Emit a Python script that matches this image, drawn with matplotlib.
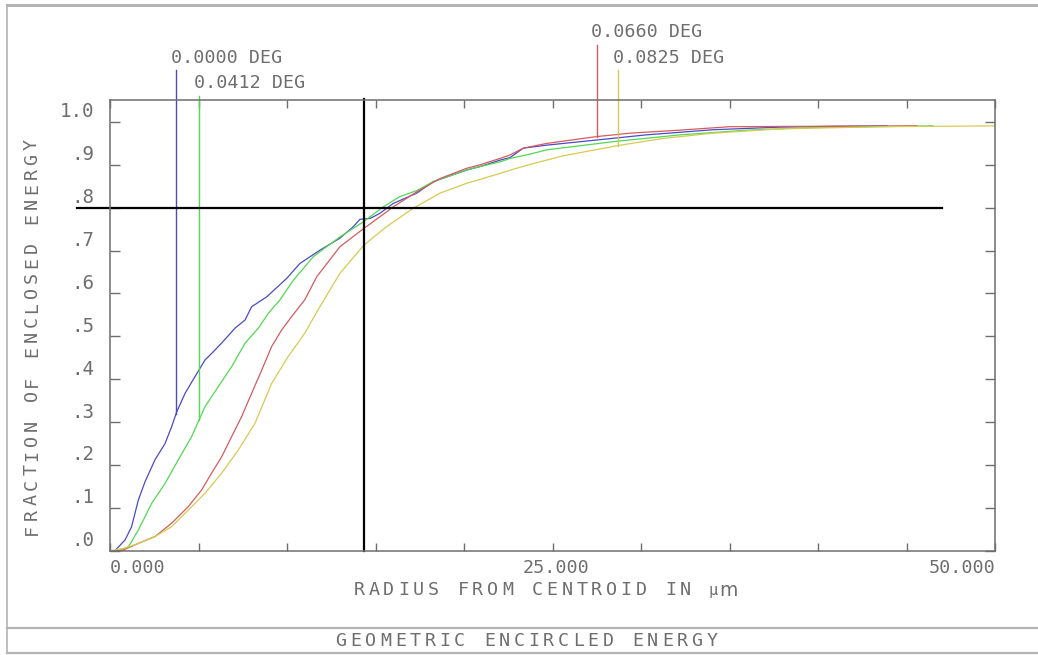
import numpy as np
import matplotlib
matplotlib.use("Agg")
import matplotlib.pyplot as plt
from matplotlib.lines import Line2D
from matplotlib.transforms import ScaledTranslation

# radius (um) / fraction of enclosed energy for each field angle
r_000 = [0.0, 0.28, 0.85, 1.22, 1.6, 1.98, 2.54, 3.11, 3.48, 3.77, 4.24, 4.8, 5.37, 5.74,
         6.3, 7.06, 7.63, 8.0, 8.85, 9.98, 10.73, 11.86, 12.99, 13.75, 14.12, 14.69, 15.25,
         16.0, 17.33, 18.27, 20.15, 20.9, 22.03, 22.6, 23.35, 24.67, 27.5, 30.3, 34.1,
         37.85, 41.0, 43.9]
e_000 = [0.0, 0.0, 0.025, 0.056, 0.118, 0.161, 0.212, 0.25, 0.289, 0.324, 0.367, 0.406,
         0.445, 0.46, 0.484, 0.519, 0.538, 0.569, 0.592, 0.635, 0.67, 0.701, 0.729, 0.756,
         0.773, 0.775, 0.787, 0.81, 0.834, 0.861, 0.888, 0.896, 0.911, 0.917, 0.939, 0.946,
         0.958, 0.970, 0.982, 0.988, 0.990, 0.991]

r_041 = [0.0, 0.47, 1.04, 1.6, 2.35, 3.11, 3.86, 4.61, 5.03, 5.37, 6.12, 6.87, 7.63, 8.38,
         8.95, 9.6, 10.36, 11.49, 12.99, 14.31, 15.44, 16.38, 17.33, 18.27, 20.15, 20.9,
         22.03, 22.6, 23.73, 24.67, 28.4, 32.2, 36.0, 39.7, 46.5]
e_041 = [0.0, 0.0, 0.009, 0.048, 0.11, 0.157, 0.212, 0.266, 0.305, 0.336, 0.383, 0.429,
         0.484, 0.519, 0.554, 0.585, 0.631, 0.686, 0.732, 0.767, 0.802, 0.826, 0.840, 0.861,
         0.888, 0.896, 0.907, 0.915, 0.925, 0.935, 0.954, 0.970, 0.981, 0.987, 0.991]

r_066 = [0.0, 0.66, 1.6, 2.54, 3.48, 4.43, 5.18, 5.74, 6.31, 6.87, 7.44, 8.0, 8.57, 9.13,
         9.7, 10.26, 11.0, 11.68, 12.99, 14.35, 15.25, 16.0, 17.33, 18.64, 20.15, 20.9,
         22.03, 22.6, 23.35, 24.67, 27.5, 29.4, 32.2, 35.0, 40.0, 45.6]
e_066 = [0.0, 0.0, 0.017, 0.033, 0.064, 0.103, 0.142, 0.181, 0.219, 0.266, 0.313, 0.367,
         0.421, 0.476, 0.515, 0.546, 0.585, 0.639, 0.709, 0.752, 0.779, 0.802, 0.837, 0.868,
         0.892, 0.900, 0.915, 0.923, 0.939, 0.950, 0.966, 0.974, 0.981, 0.989, 0.990, 0.991]

r_083 = [0.0, 0.85, 1.6, 2.54, 3.48, 4.43, 5.37, 6.31, 7.25, 8.19, 9.13, 10.07, 11.0,
         11.77, 12.99, 14.35, 15.63, 17.14, 18.64, 20.15, 20.9, 22.03, 22.8, 23.9, 25.6,
         28.7, 31.3, 34.1, 37.85, 43.5, 50.0]
e_083 = [0.0, 0.006, 0.017, 0.033, 0.056, 0.095, 0.134, 0.181, 0.235, 0.297, 0.39, 0.453,
         0.507, 0.563, 0.647, 0.713, 0.756, 0.799, 0.834, 0.857, 0.866, 0.880, 0.890, 0.903,
         0.921, 0.945, 0.962, 0.974, 0.984, 0.989, 0.991]

fields = ["0.0000 DEG", "0.0412 DEG", "0.0660 DEG", "0.0825 DEG"]
colors = ["#4a4ac8", "#52d852", "#d45c5c", "#d6ca52"]
# radius where each field's label leader is drawn, and how high it reaches
marker_r = [3.73, 5.03, 27.5, 28.7]
marker_top = [1.121, 1.061, 1.180, 1.121]

crosshair_r = 14.35
crosshair_e = 0.8

W, H = 1038, 655
GREY = "#6e6e6e"
MONO = "DejaVu Sans Mono"

fig = plt.figure(figsize=(W / 100, H / 100), dpi=100)
ax = fig.add_axes([110 / W, (H - 550.7) / H, 885 / W, 450.7 / H])

curves = [(r_000, e_000), (r_041, e_041), (r_066, e_066), (r_083, e_083)]
for (r, e), c in zip(curves, colors):
    ax.plot(r, e, color=c, lw=0.9, solid_joinstyle="round")

# leader lines from each curve up to its field label
for (r, e), c, mr, top, name in zip(curves, colors, marker_r, marker_top, fields):
    y0 = np.interp(mr, r, e)
    ax.plot([mr, mr], [y0, top], color=c, lw=1.0, clip_on=False)
    ax.text(mr - 0.3, top + 0.029, name, color=GREY, fontsize=13.2, family=MONO,
            ha="left", va="center", clip_on=False)

# crosshair
ax.plot([crosshair_r, crosshair_r], [0, 1.053], color="black", lw=1.6, clip_on=False)
ax.plot([-1.86, 47.0], [crosshair_e, crosshair_e], color="black", lw=1.6, clip_on=False)

ax.set_xlim(0, 50)
ax.set_ylim(0, 1.0513)
for s in ax.spines.values():
    s.set_color(GREY)
    s.set_linewidth(1.1)

xt = np.arange(0, 51, 5)
ax.set_xticks(xt, ["0.000" if v == 0 else "25.000" if v == 25 else "50.000" if v == 50 else ""
                   for v in xt])
yt = np.round(np.arange(0, 1.01, 0.1), 1)
ax.set_yticks(yt, ["1.0" if v == 1 else "." + str(int(round(v * 10))) for v in yt])
ax.tick_params(axis="x", direction="in", top=True, length=6, width=1, color=GREY,
               labelcolor=GREY, labelsize=13.2, pad=6)
ax.tick_params(axis="y", direction="in", right=True, length=7.5, width=1, color=GREY,
               labelcolor=GREY, labelsize=13.8, pad=11)
for lab in ax.get_xticklabels():
    lab.set_family(MONO)
xl = ax.get_xticklabels()
xl[0].set_ha("left")
xl[-1].set_ha("right")
xl[5].set_transform(xl[5].get_transform() + ScaledTranslation(0.04, 0, fig.dpi_scale_trans))
for lab in ax.get_yticklabels():
    lab.set_family(MONO)
    lab.set_transform(lab.get_transform() + ScaledTranslation(0, 0.12, fig.dpi_scale_trans))


def spaced(s, x0, y0, pitch, vertical=False, size=13.2):
    # lay out a string one glyph at a time with a fixed pitch (pixel coords, top-down)
    for i, ch in enumerate(s):
        if ch == " ":
            continue
        if vertical:
            x, y, rot = x0, y0 - i * pitch, 90
        else:
            x, y, rot = x0 + i * pitch, y0, 0
        fig.text(x / W, 1 - y / H, ch, color=GREY, fontsize=size, family=MONO,
                 ha="center", va="center", rotation=rot)


spaced("RADIUS FROM CENTROID IN", 359, 590, 14.85)
fig.text(709 / W, 1 - 595 / H, "µ", color=GREY, fontsize=11, family=MONO,
         ha="left", va="baseline")
fig.text(719 / W, 1 - 596 / H, "m", color=GREY, fontsize=13.5, family="DejaVu Sans",
         ha="left", va="baseline")
spaced("FRACTION OF ENCLOSED ENERGY", 32, 529, 14.8, vertical=True)
spaced("GEOMETRIC ENCIRCLED ENERGY", 341, 641, 14.84)

# page frame around the plot window
frame = "#b4b4b4"
for xs, ys, lw in [((7, W), (5, 5), 2.2), ((7, 7), (5, 653), 1.2),
                   ((7, W), (628, 628), 1.6), ((7, W), (653, 653), 1.6)]:
    fig.add_artist(Line2D([x / W for x in xs], [1 - y / H for y in ys],
                          color=frame, lw=lw))

fig.savefig("out.png", dpi=100)
